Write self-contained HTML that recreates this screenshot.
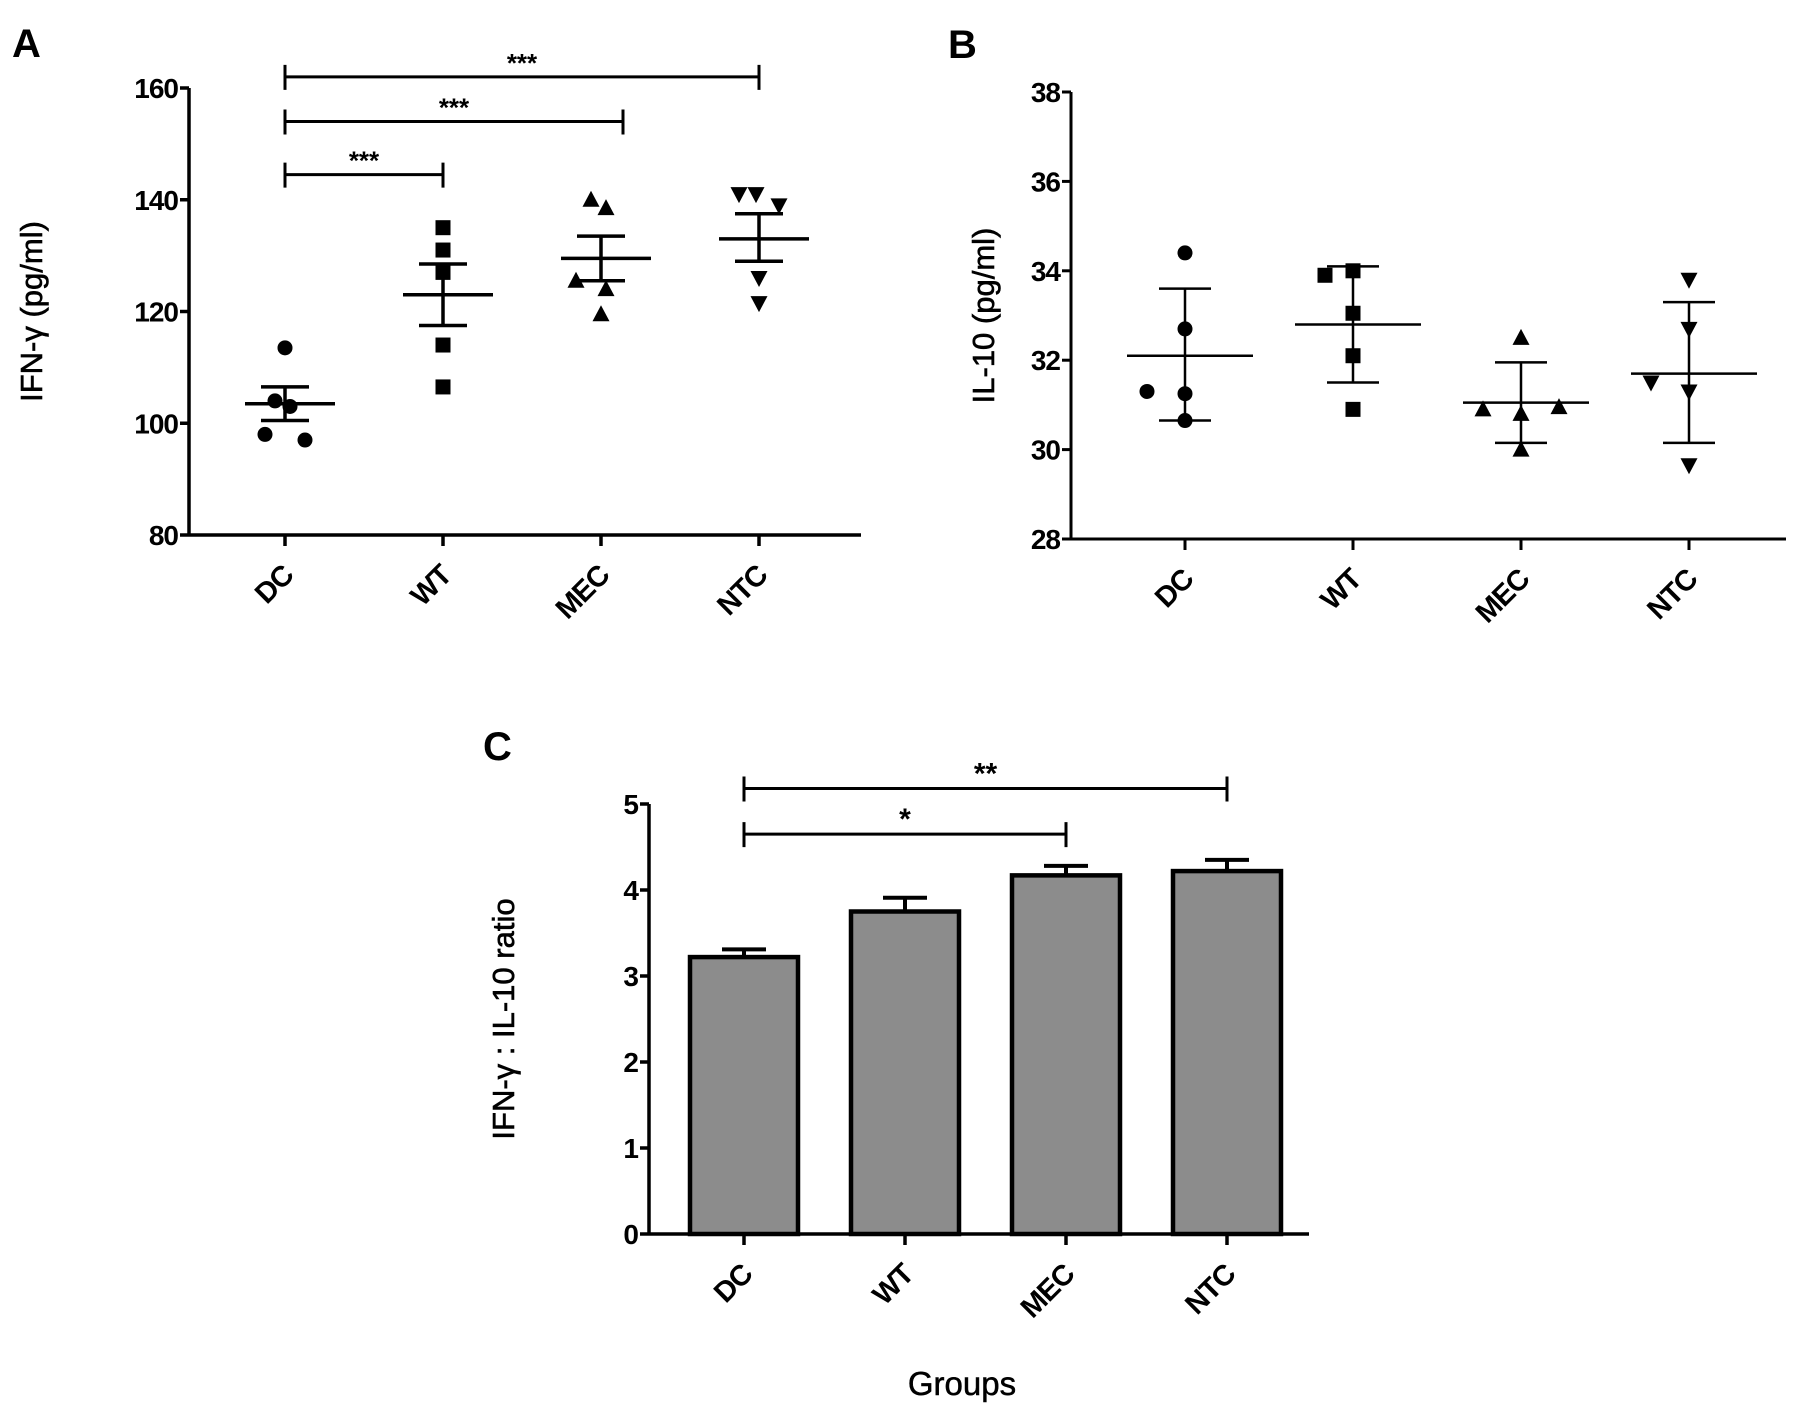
<!DOCTYPE html>
<html><head><meta charset="utf-8"><style>
html,body{margin:0;padding:0;background:#fff;}
svg{display:block;font-family:"Liberation Sans",sans-serif;}
</style></head><body>
<svg id="fig" width="1795" height="1411" viewBox="0 0 1795 1411" xmlns="http://www.w3.org/2000/svg"></svg>
<script>
const categories = ["DC","WT","MEC","NTC"];
// Panel A: IFN-γ
const ifnPoints = [[113.5,104,103,98,97],[135,131,127,114,106.5],[140,138.5,125.5,124,119.5],[141,141,139,126,121.5]];
const ifnMean = [103.5,123,129.5,133];
const ifnUpper = [106.5,128.5,133.5,137.5];
const ifnLower = [100.5,117.5,125.5,129];
const ifnTicks = [80,100,120,140,160];
const ifnSig = [{to:1,y:144.5,label:"***"},{to:2,y:154,label:"***"},{to:3,y:162,label:"***"}];
// Panel B: IL-10
const ilPoints = [[34.4,32.7,31.3,31.25,30.65],[34.0,33.9,33.05,32.1,30.9],[32.5,30.9,30.8,30.95,30.0],[33.8,32.7,31.5,31.3,29.65]];
const ilMean = [32.1,32.8,31.05,31.7];
const ilUpper = [33.6,34.1,31.95,33.3];
const ilLower = [30.65,31.5,30.15,30.15];
const ilTicks = [28,30,32,34,36,38];
// Panel C: ratio
const ratioValues = [3.22,3.75,4.17,4.22];
const ratioErr = [0.09,0.16,0.11,0.13];
const ratioTicks = [0,1,2,3,4,5];
const ratioSig = [{to:2,y:4.65,label:"*"},{to:3,y:5.18,label:"**"}];

const jitter = [[0,-10,5,-20,20],[0,0,0,0,0],[-10,5,-25,5,0],[-20,-3,20,0,0]];
const jitterB = [[0,0,-38,0,0],[0,-28,0,0,0],[0,-38,0,38,0],[0,0,-38,0,0]];
const bracketShiftA = [0,0,22,0];
const NS="http://www.w3.org/2000/svg";
const svg=document.getElementById('fig');
function el(tag,attrs,parent){const e=document.createElementNS(NS,tag);for(const k in attrs)e.setAttribute(k,attrs[k]);(parent||svg).appendChild(e);return e;}
function txt(s,attrs,parent){const t=el('text',attrs,parent);t.textContent=s;return t;}

function axes(g,cfg){
  const {x0,yTop,yBot,xRight,ticks,xs,min,max,lw,title,titleX,letter,lx,ly}=cfg;
  const ys=v=>yBot-(v-min)/(max-min)*(yBot-yTop);
  const ya=el('line',{x1:x0,y1:yTop,x2:x0,y2:yBot,stroke:'#000','stroke-width':lw},g);
  
  const xa=el('line',{x1:x0,y1:yBot,x2:xRight,y2:yBot,stroke:'#000','stroke-width':lw},g);
  
  ticks.forEach(t=>{
    el('line',{x1:x0-9,y1:ys(t),x2:x0,y2:ys(t),stroke:'#000','stroke-width':lw},g);
    const l=txt(String(t),{x:x0-11,y:ys(t)+10,'text-anchor':'end','font-size':28,'font-weight':'bold','letter-spacing':'-1'},g);
    
  });
  categories.forEach((c,i)=>{
    el('line',{x1:xs(i),y1:yBot,x2:xs(i),y2:yBot+11,stroke:'#000','stroke-width':lw},g);
    const l=txt(c,{x:0,y:0,'text-anchor':'end','font-size':29,'font-weight':'bold','letter-spacing':'-1',transform:`translate(${xs(i)+10},${yBot+42}) rotate(-45)`},g);
    
  });
  const tt=txt(title,{x:0,y:0,'text-anchor':'middle','font-size':31,'stroke':'#000','stroke-width':0.6,transform:`translate(${titleX},${(yTop+yBot)/2}) rotate(-90)`},g);
  
  const L=txt(letter,{x:lx,y:ly,'font-size':40,'font-weight':'bold'},g);
  
  return ys;
}
function marker(g,kind,x,y){
  if(kind===0) return el('circle',{cx:x,cy:y,r:7.5,fill:'#000'},g);
  if(kind===1) return el('rect',{x:x-7.5,y:y-7.5,width:15,height:15,fill:'#000'},g);
  if(kind===2) return el('polygon',{points:`${x},${y-9} ${x-8.5},${y+7} ${x+8.5},${y+7}`,fill:'#000'},g);
  return el('polygon',{points:`${x},${y+9} ${x-8.5},${y-7} ${x+8.5},${y-7}`,fill:'#000'},g);
}
function brackets(g,sig,xs,ys,lw,fs,shift){
  sig.forEach(s=>{
    const y=ys(s.y),x1=xs(0),x2=xs(s.to)+(shift?shift[s.to]:0);
    const p=el('path',{d:`M${x1},${y-12}V${y+13}M${x1},${y}H${x2}M${x2},${y-12}V${y+13}`,stroke:'#000','stroke-width':lw,fill:'none'},g);
    
    const t=txt(s.label,{x:(x1+x2)/2,y:y-5,'text-anchor':'middle','font-size':fs,'font-weight':'bold'},g);
    
  });
}
function scatter(g,pts,mean,up,lo,xs,ys,jit,lw,mw,cw){
  pts.forEach((arr,i)=>{
    const cx=xs(i);
    arr.forEach((v,j)=>{const m=marker(g,i,cx+jit[i][j],ys(v));
      });
    const ml=el('line',{x1:cx-mw,y1:ys(mean[i]),x2:cx+mw+10,y2:ys(mean[i]),stroke:'#000','stroke-width':lw},g);
    
    const eb=el('path',{d:`M${cx},${ys(up[i])}V${ys(lo[i])}M${cx-cw},${ys(up[i])}H${cx+cw}M${cx-cw},${ys(lo[i])}H${cx+cw}`,stroke:'#000','stroke-width':lw,fill:'none'},g);
    
  });
}
// Panel A
const gA=el('g',{});
const xsA=i=>285+i*158;
const ysA=axes(gA,{x0:189,yTop:88,yBot:535,xRight:861,ticks:ifnTicks,xs:xsA,min:80,max:160,lw:3.5,title:"IFN-γ (pg/ml)",titleX:42,letter:"A",lx:12,ly:57});
scatter(gA,ifnPoints,ifnMean,ifnUpper,ifnLower,xsA,ysA,jitter,3.5,40,24);
brackets(gA,ifnSig,xsA,ysA,3,26,bracketShiftA);
// Panel B
const gB=el('g',{});
const xsB=i=>1185+i*168;
const ysB=axes(gB,{x0:1071,yTop:92,yBot:539,xRight:1786,ticks:ilTicks,xs:xsB,min:28,max:38,lw:3,title:"IL-10 (pg/ml)",titleX:994,letter:"B",lx:948,ly:58});
scatter(gB,ilPoints,ilMean,ilUpper,ilLower,xsB,ysB,jitterB,2.5,58,26);
// Panel C
const gC=el('g',{});
const xsC=i=>744+i*161;
const ysC=axes(gC,{x0:649,yTop:804,yBot:1234,xRight:1309,ticks:ratioTicks,xs:xsC,min:0,max:5,lw:3.5,title:"IFN-γ : IL-10 ratio",titleX:514,letter:"C",lx:483,ly:760});
ratioValues.forEach((v,i)=>{
  const cx=xsC(i),e=ratioErr[i];
  const eb=el('path',{d:`M${cx},${ysC(v)}V${ysC(v+e)}M${cx-22},${ysC(v+e)}H${cx+22}`,stroke:'#000','stroke-width':4,fill:'none'},gC);
  
  const b=el('rect',{x:cx-54,y:ysC(v),width:108,height:ysC(0)-ysC(v),fill:'#8c8c8c',stroke:'#000','stroke-width':4.5},gC);
  
});
brackets(gC,ratioSig,xsC,ysC,3,30);
const gx=txt("Groups",{x:962,y:1395,'text-anchor':'middle','font-size':33,'stroke':'#000','stroke-width':0.5},gC);

</script>
</body></html>
